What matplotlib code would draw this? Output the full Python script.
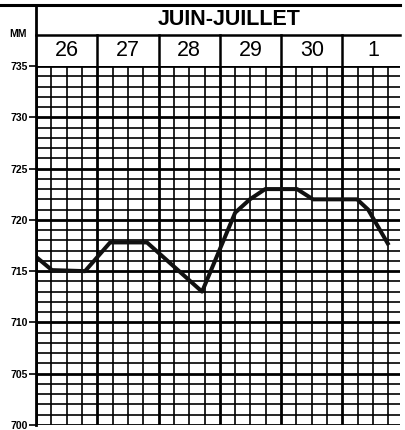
import matplotlib
matplotlib.use("Agg")
import matplotlib.pyplot as plt
import numpy as np

# Relevé barométrique (mm de mercure), temps en jours depuis le 26 à 0 h
jours = ["26", "27", "28", "29", "30", "1"]
titre = "JUIN-JUILLET"
temps = [0.0, 0.26, 0.8, 1.21, 1.81, 2.71, 3.25, 3.49, 3.74, 4.26, 4.52, 5.24, 5.42, 5.74]
pression = [716.4, 715.1, 715.0, 717.8, 717.8, 713.0, 720.7, 722.0, 723.0, 723.0, 722.0, 722.0, 721.0, 717.7]
graduations = [700, 705, 710, 715, 720, 725, 730, 735]

plt.rcParams["font.family"] = ["Liberation Sans", "DejaVu Sans"]

fig = plt.figure(figsize=(4.06, 4.30), dpi=100)
ax = fig.add_axes([36 / 406, 5 / 430, 364 / 406, 359 / 430])

xmax = 5.94
ax.set_xlim(0, xmax)
ax.set_ylim(700, 735)

# quadrillage : 1 mm / 6 h, traits forts tous les 5 mm / chaque jour
for y in range(700, 736):
    lw = 2.0 if y % 5 == 0 else 1.2
    ax.axhline(y, color="black", lw=lw, zorder=1)
for x in np.arange(0, xmax, 0.25):
    lw = 2.0 if abs(x - round(x)) < 1e-9 else 1.2
    ax.axvline(x, color="black", lw=lw, zorder=1)

ax.plot(temps, pression, color="#111111", lw=2.9, solid_joinstyle="round", zorder=3)

ax.set_yticks(graduations)
ax.set_yticklabels([str(g) for g in graduations], fontsize=7.5, fontweight="bold")
ax.tick_params(axis="y", length=5, width=1.2, pad=1)
ax.set_xticks([])
for s in ax.spines.values():
    s.set_visible(False)

# en-tête
kw = dict(color="black", clip_on=False, zorder=4)
ax.plot([-0.58, xmax], [740.95, 740.95], lw=2.2, **kw)
ax.plot([0, xmax], [738.0, 738.0], lw=1.8, **kw)
ax.plot([0, 0], [740.95, 700], lw=2.0, **kw)
for d in range(1, 6):
    ax.plot([d, d], [738.0, 735], lw=1.8, **kw)
for i, j in enumerate(jours):
    ax.text(i + 0.5, 736.5, j, ha="center", va="center", fontsize=15.5, clip_on=False)
ax.text(3.15, 739.5, titre, ha="center", va="center", fontsize=15.5, fontweight="bold", clip_on=False)
ax.text(-0.3, 738.1, "MM", ha="center", va="center", fontsize=7.5, fontweight="bold", clip_on=False)

fig.savefig("out.png", dpi=100)
